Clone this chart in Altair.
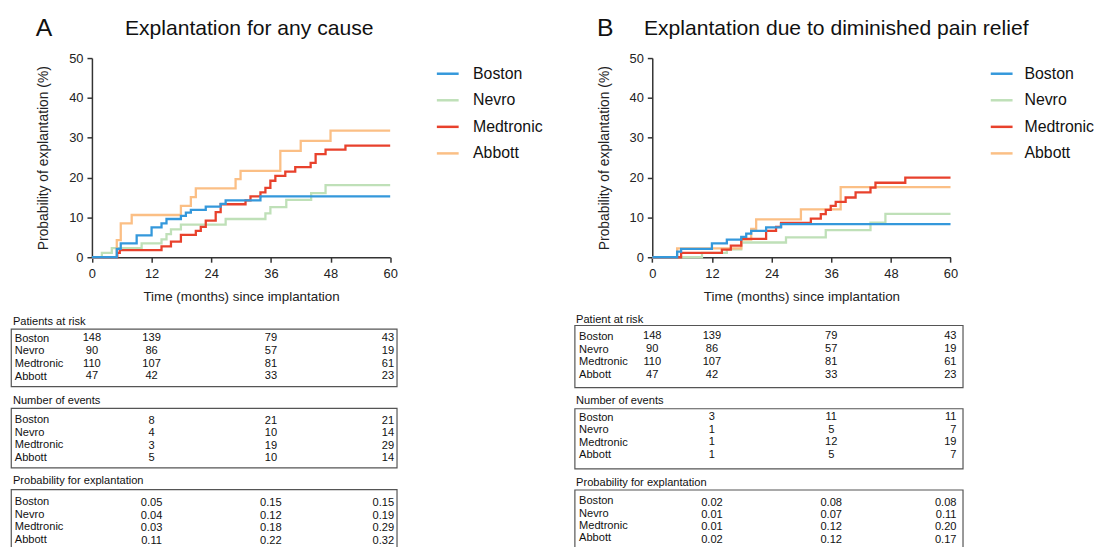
import altair as alt
import pandas as pd

FONT = "Liberation Sans"
BRANDS = ["Boston", "Nevro", "Medtronic", "Abbott"]
COLORS = ["#3498db", "#bfe0b8", "#e8412c", "#fbbf85"]
DRAW_ORDER = ["Nevro", "Abbott", "Medtronic", "Boston"]
X_TICKS = [0, 12, 24, 36, 48, 60]
Y_TICKS = [0, 10, 20, 30, 40, 50]

# ---------------- Panel A curves (months, cumulative probability %) ----------------
a_boston_t = [0, 5.0, 5.8, 9.0, 12.0, 14.0, 15.0, 17.9, 18.9, 19.9, 22.9, 25.9, 26.9, 33.9, 60]
a_boston_p = [0, 2.1, 3.5, 5.5, 7.5, 8.5, 9.6, 10.4, 11.2, 11.9, 12.7, 13.4, 14.3, 15.3, 15.3]
a_nevro_t = [0, 2.0, 4.0, 10.0, 14.0, 15.0, 15.9, 17.9, 26.9, 34.9, 35.9, 39.1, 44.1, 47.0, 60]
a_nevro_p = [0, 1.1, 2.3, 3.5, 4.5, 5.8, 7.0, 8.2, 9.6, 11.0, 12.6, 14.4, 16.1, 18.1, 18.1]
a_medtronic_t = [0, 5.1, 5.6, 14.0, 15.9, 17.9, 20.9, 21.9, 22.9, 24.9, 25.9, 30.9, 31.9,
                 33.9, 34.9, 35.9, 36.9, 38.9, 40.9, 44.0, 45.0, 47.0, 51.0, 60]
a_medtronic_p = [0, 1.1, 1.8, 2.7, 3.9, 5.6, 6.6, 7.6, 9.2, 11.3, 13.3, 14.3, 15.3,
                 16.3, 17.4, 19.2, 20.4, 21.5, 22.6, 23.7, 25.9, 27.0, 28.0, 28.0]
a_abbott_t = [0, 5.0, 5.8, 8.0, 17.9, 19.9, 20.9, 28.9, 29.9, 37.9, 42.0, 48.0, 60]
a_abbott_p = [0, 4.3, 8.5, 10.6, 12.9, 15.1, 17.3, 19.6, 21.7, 26.7, 29.2, 31.8, 31.8]

# ---------------- Panel B curves ----------------
b_boston_t = [0, 5.0, 5.8, 12.0, 15.0, 17.9, 18.9, 19.9, 22.9, 25.9, 60]
b_boston_p = [0, 1.4, 2.1, 3.5, 4.4, 5.1, 5.9, 6.6, 7.5, 8.3, 8.3]
b_nevro_t = [0, 10.0, 15.0, 17.9, 26.9, 34.9, 43.9, 46.9, 60]
b_nevro_p = [0, 1.1, 2.0, 3.7, 5.0, 6.8, 8.7, 10.9, 10.9]
b_medtronic_t = [0, 5.8, 14.0, 15.8, 17.9, 22.9, 24.9, 25.9, 31.9, 33.9, 34.9, 35.9,
                 36.9, 38.9, 40.9, 43.9, 44.9, 50.9, 60]
b_medtronic_p = [0, 1.1, 1.9, 2.9, 4.6, 6.6, 7.6, 8.6, 9.7, 10.8, 11.9, 12.9,
                 13.9, 15.0, 16.3, 17.5, 18.7, 20.0, 20.0]
b_abbott_t = [0, 5.0, 17.9, 19.9, 20.9, 29.9, 37.9, 60]
b_abbott_p = [0, 2.2, 4.4, 7.1, 9.5, 12.0, 17.6, 17.6]

# ---------------- Tables ----------------
risk_cols = [0, 12, 36, 60]
risk_boston = [148, 139, 79, 43]
risk_nevro = [90, 86, 57, 19]
risk_medtronic = [110, 107, 81, 61]
risk_abbott = [47, 42, 33, 23]

event_cols = [12, 36, 60]
a_events_boston = [8, 21, 21]
a_events_nevro = [4, 10, 14]
a_events_medtronic = [3, 19, 29]
a_events_abbott = [5, 10, 14]
a_prob_boston = [0.05, 0.15, 0.15]
a_prob_nevro = [0.04, 0.12, 0.19]
a_prob_medtronic = [0.03, 0.18, 0.29]
a_prob_abbott = [0.11, 0.22, 0.32]

b_events_boston = [3, 11, 11]
b_events_nevro = [1, 5, 7]
b_events_medtronic = [1, 12, 19]
b_events_abbott = [1, 5, 7]
b_prob_boston = [0.02, 0.08, 0.08]
b_prob_nevro = [0.01, 0.07, 0.11]
b_prob_medtronic = [0.01, 0.12, 0.20]
b_prob_abbott = [0.02, 0.12, 0.17]

TXT = "#111111"
AX = "#333333"
TFS = 11.2


def km_chart(curves, letter, letter_x, title, title_dx, width, x_range, legend_x,
             legend_label_offset):
    rows = []
    for b in DRAW_ORDER:
        t, p = curves[b]
        rows += [{"brand": b, "month": ti, "prob": pi} for ti, pi in zip(t, p)]
    df = pd.DataFrame(rows)
    lines = alt.Chart(df).mark_line(interpolate="step-after", strokeWidth=2.3).encode(
        x=alt.X("month:Q",
                scale=alt.Scale(domain=[0, 60], range=x_range, nice=False, zero=False),
                axis=alt.Axis(values=X_TICKS, title="Time (months) since implantation",
                              tickSize=5, labelPadding=5, titlePadding=10, labelFlush=False,
                              labelFontSize=13, titleFontSize=13.5)),
        y=alt.Y("prob:Q",
                scale=alt.Scale(domain=[0, 50], nice=False),
                axis=alt.Axis(values=Y_TICKS, offset=-x_range[0],
                              title="Probability of explantation (%)",
                              tickSize=5, labelPadding=4, titlePadding=18,
                              labelFontSize=13, titleFontSize=14)),
        color=alt.Color("brand:N", title=None,
                        scale=alt.Scale(domain=BRANDS, range=COLORS),
                        legend=alt.Legend(orient="none", legendX=legend_x, legendY=3.3,
                                          symbolType="stroke", symbolSize=484,
                                          symbolStrokeWidth=2.5, labelFontSize=16,
                                          labelOffset=legend_label_offset, rowPadding=5.8,
                                          padding=0, labelColor=TXT)),
    )
    letter_layer = alt.Chart(pd.DataFrame({"letter": [letter]})).mark_text(
        fontSize=25, align="left", baseline="alphabetic", color=TXT
    ).encode(text="letter:N", x=alt.value(letter_x), y=alt.value(-22.7))
    return alt.layer(lines, letter_layer).properties(
        width=width, height=201,
        title=alt.TitleParams(text=title, anchor="start", frame="group", dx=title_dx,
                              dy=24, offset=0, fontSize=21.3, fontWeight="normal",
                              color=TXT),
    )


def table_chart(title, title_offset, title_dx, cols, values, fmt, width, x_range, end_dx,
                height, y_range, label_offset, label_inset):
    rows = []
    for b in BRANDS:
        for c, v in zip(cols, values[b]):
            rows.append({"brand": b, "col": c, "value": v})
    df = pd.DataFrame(rows)
    x = alt.X("col:Q", scale=alt.Scale(domain=[0, 60], range=x_range, nice=False, zero=False),
              axis=None)
    y = alt.Y("brand:N", sort=BRANDS,
              scale=alt.Scale(domain=BRANDS, range=y_range, padding=0),
              axis=alt.Axis(title=None, ticks=False, tickSize=0, domain=False,
                            labelAlign="left", labelBaseline="middle", labelPadding=0,
                            offset=-label_inset, labelFontSize=TFS, labelColor=TXT,
                            labelOffset=label_offset))
    text = alt.Text("value:Q", format=fmt)
    base = alt.Chart(df)
    mid = base.transform_filter(alt.datum.col < 60).mark_text(
        align="center", baseline="middle", fontSize=TFS, color=TXT
    ).encode(x=x, y=y, text=text)
    end = base.transform_filter(alt.datum.col >= 60).mark_text(
        align="right", baseline="middle", dx=end_dx, fontSize=TFS, color=TXT
    ).encode(x=x, y=y, text=text)
    return alt.layer(mid, end).properties(
        width=width, height=height,
        view=alt.ViewBackground(stroke="#555555", strokeWidth=1.2),
        title=alt.TitleParams(text=title, anchor="start", fontSize=TFS, fontWeight="normal",
                              offset=title_offset, dx=title_dx, color=TXT),
    )


curves_a = {"Boston": (a_boston_t, a_boston_p), "Nevro": (a_nevro_t, a_nevro_p),
            "Medtronic": (a_medtronic_t, a_medtronic_p), "Abbott": (a_abbott_t, a_abbott_p)}
curves_b = {"Boston": (b_boston_t, b_boston_p), "Nevro": (b_nevro_t, b_nevro_p),
            "Medtronic": (b_medtronic_t, b_medtronic_p), "Abbott": (b_abbott_t, b_abbott_p)}
risk = {"Boston": risk_boston, "Nevro": risk_nevro, "Medtronic": risk_medtronic,
        "Abbott": risk_abbott}
a_events = {"Boston": a_events_boston, "Nevro": a_events_nevro,
            "Medtronic": a_events_medtronic, "Abbott": a_events_abbott}
a_prob = {"Boston": a_prob_boston, "Nevro": a_prob_nevro,
          "Medtronic": a_prob_medtronic, "Abbott": a_prob_abbott}
b_events = {"Boston": b_events_boston, "Nevro": b_events_nevro,
            "Medtronic": b_events_medtronic, "Abbott": b_events_abbott}
b_prob = {"Boston": b_prob_boston, "Nevro": b_prob_nevro,
          "Medtronic": b_prob_medtronic, "Abbott": b_prob_abbott}

XR_A = [81.7, 382.7]
XR_B = [78.4, 379.4]

km_a = km_chart(curves_a, "A", 25, "Explantation for any cause", 115, 533.5, XR_A, 428.3, 13)
km_b = km_chart(curves_b, "B", 22.7, "Explantation due to diminished pain relief", 70, 519,
                XR_B, 418.5, 10.5)

ta1 = table_chart("Patients at risk", 1.6, 2, risk_cols, risk, "d", 389.3, XR_A, 4,
                  58, [9.5, 47.9], 0, 3.3)
ta2 = table_chart("Number of events", 1.6, 2, event_cols, a_events, "d", 389.3, XR_A, 4,
                  60, [12.9, 50.4], -1, 3.3)
ta3 = table_chart("Probability for explantation", 2.9, 2, event_cols, a_prob, ".2f", 389.3,
                  XR_A, 4, 65, [13.7, 52], -1.5, 3.3)

tb1 = table_chart("Patient at risk", 0, 1.5, risk_cols, risk, "d", 391.7, XR_B, 6,
                  62.7, [11.2, 50], 0, 4)
tb2 = table_chart("Number of events", 2.6, 1.5, event_cols, b_events, "d", 391.7, XR_B, 6,
                  60.6, [9.1, 47], 0, 4)
tb3 = table_chart("Probability for explantation", 1.9, 1.5, event_cols, b_prob, ".2f", 391.7,
                  XR_B, 6, 65, [13.2, 50.5], -2, 4)

left_tables = alt.vconcat(ta1, ta2, ta3, spacing=22, bounds="flush")
right_tables = alt.vconcat(tb1, tb2, tb3, spacing=21, bounds="flush")
left_col = alt.vconcat(km_a, left_tables, spacing=11.3)
right_col = alt.vconcat(km_b, right_tables, spacing=9.6)

chart = alt.hconcat(left_col, right_col, spacing=29.8).resolve_scale(
    color="independent"
).resolve_legend(color="independent").properties(
    padding={"left": 2, "top": 5, "right": 0, "bottom": 0}
).configure(font=FONT).configure_view(strokeWidth=0).configure_axis(
    grid=False, domainColor=AX, domainWidth=1.5, tickColor=AX, tickWidth=1.5,
    labelColor="#222222", titleColor="#222222", titleFontWeight="normal",
    labelFont=FONT, titleFont=FONT
).configure_legend(labelFont=FONT).configure_title(font=FONT)

chart.save("out.html", embed_options={"renderer": "svg", "actions": False})
